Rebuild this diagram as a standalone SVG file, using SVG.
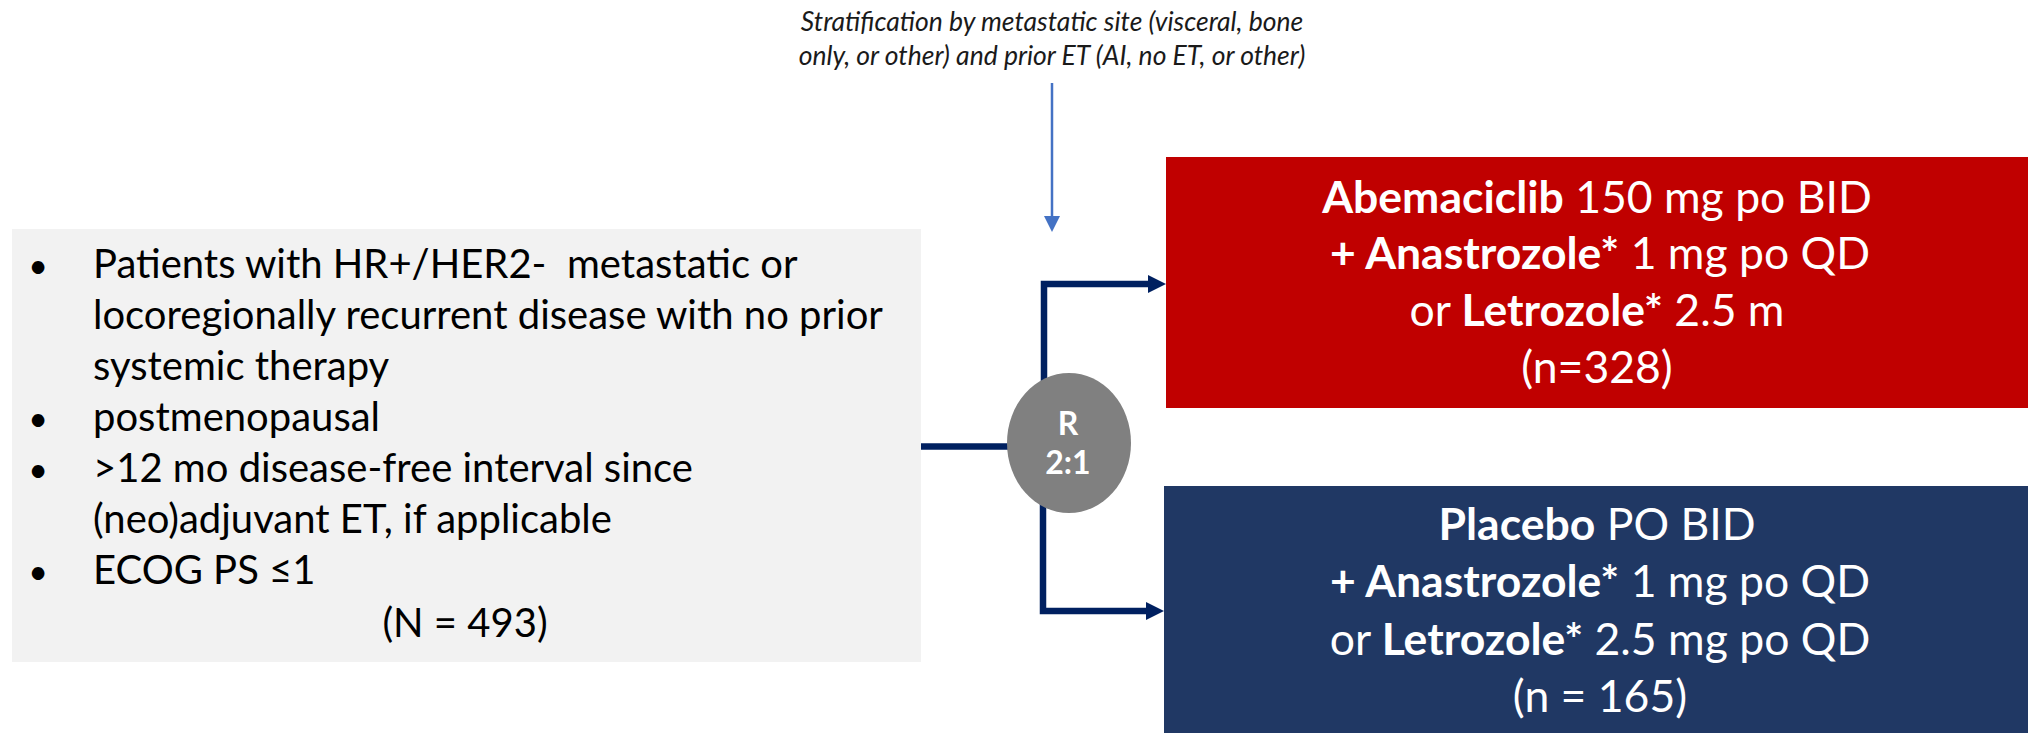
<svg xmlns="http://www.w3.org/2000/svg" width="2028" height="733" viewBox="0 0 2028 733">
<style>
.t{font-family:Lato,"Liberation Sans",sans-serif}
.crit{font-size:40px;fill:#000}
.arm{font-size:44.5px;fill:#fff;text-anchor:middle}
.b{font-weight:bold}
.strat{font-size:26.5px;font-style:italic;fill:#1a1a1a;text-anchor:middle}
.rand{font-size:32px;font-weight:bold;fill:#fff;text-anchor:middle}
.bul{font-size:34px}
.conn{fill:none;stroke:#002060;stroke-width:6.5;stroke-linejoin:miter}
</style>
<defs>
<marker id="ah" viewBox="0 0 18 18" markerWidth="18" markerHeight="18" markerUnits="userSpaceOnUse" refX="0" refY="9" orient="auto"><path d="M0,0 L18,9 L0,18 z" fill="#002060"/></marker>
<marker id="ahb" viewBox="0 0 16 16" markerWidth="16" markerHeight="16" markerUnits="userSpaceOnUse" refX="0" refY="8" orient="auto"><path d="M0,0 L16,8 L0,16 z" fill="#4472C4"/></marker>
</defs>
<g id="connectors">
<path class="conn" d="M920,446.5 H1040"/>
<path class="conn" d="M1044,420 V284 H1148" marker-end="url(#ah)"/>
<path class="conn" d="M1043,480 V611 H1146" marker-end="url(#ah)"/>
<path d="M1052,83 V216" fill="none" stroke="#4472C4" stroke-width="2.5" marker-end="url(#ahb)"/>
</g>
<g id="stratification">
<text class="t strat" x="1052" y="31">Stratification by metastatic site (visceral, bone</text>
<text class="t strat" x="1052" y="65">only, or other) and prior ET (AI, no ET, or other)</text>
</g>
<g id="eligibility">
<rect x="12" y="229" width="909" height="433" fill="#F2F2F2"/>
<g class="t crit">
<text class="bul" x="38" y="278" text-anchor="middle">•</text>
<text x="93" y="278" xml:space="preserve">Patients with HR+/HER2-  metastatic or</text>
<text x="93" y="329">locoregionally recurrent disease with no prior</text>
<text x="93" y="380">systemic therapy</text>
<text class="bul" x="38" y="431" text-anchor="middle">•</text>
<text x="93" y="431">postmenopausal</text>
<text class="bul" x="38" y="482" text-anchor="middle">•</text>
<text x="93" y="482">&gt;12 mo disease-free interval since</text>
<text x="93" y="533">(neo)adjuvant ET, if applicable</text>
<text class="bul" x="38" y="584" text-anchor="middle">•</text>
<text x="93" y="584">ECOG PS ≤1</text>
<text x="465" y="637" text-anchor="middle">(N = 493)</text>
</g>
</g>
<g id="randomization">
<ellipse cx="1069" cy="443" rx="62" ry="70" fill="#808080"/>
<text class="t rand" x="1068" y="435">R</text>
<text class="t rand" x="1068" y="474">2:1</text>
</g>
<g id="abemaciclib-arm">
<rect x="1166" y="157" width="862" height="251" fill="#C00000"/>
<text class="t arm" x="1597" y="213"><tspan class="b">Abemaciclib</tspan> 150 mg po BID</text>
<text class="t arm" x="1600" y="269"><tspan class="b">+ Anastrozole*</tspan> 1 mg po QD</text>
<text class="t arm" x="1597" y="326">or <tspan class="b">Letrozole*</tspan> 2.5 m</text>
<text class="t arm" x="1597" y="383">(n=328)</text>
</g>
<g id="placebo-arm">
<rect x="1164" y="486" width="864" height="247" fill="#203864"/>
<text class="t arm" x="1597" y="540"><tspan class="b">Placebo</tspan> PO BID</text>
<text class="t arm" x="1600" y="597"><tspan class="b">+ Anastrozole*</tspan> 1 mg po QD</text>
<text class="t arm" x="1600" y="655">or <tspan class="b">Letrozole*</tspan> 2.5 mg po QD</text>
<text class="t arm" x="1600" y="712">(n = 165)</text>
</g>
</svg>
